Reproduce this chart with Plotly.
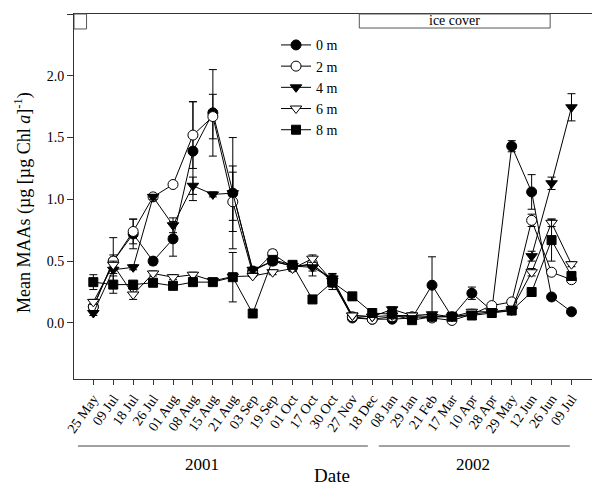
import plotly.graph_objects as go

dates = ["25 May", "09 Jul", "18 Jul", "26 Jul", "01 Aug", "08 Aug", "15 Aug", "21 Aug",
         "03 Sep", "19 Sep", "01 Oct", "17 Oct", "30 Oct", "27 Nov", "18 Dec", "08 Jan",
         "29 Jan", "21 Feb", "17 Mar", "10 Apr", "28 Apr", "29 May", "12 Jun", "26 Jun", "09 Jul"]

m0 = [0.13, 0.50, 0.72, 0.50, 0.68, 1.39, 1.70, 1.05, 0.42, 0.50, 0.46, 0.47, 0.35, 0.04, 0.03, 0.03,
      0.04, 0.305, 0.05, 0.24, 0.10, 1.43, 1.06, 0.21, 0.09]
m0_err = [0, 0.19, 0.12, 0.03, 0.14, 0.4, 0.35, 0.45, 0, 0.03, 0.03, 0.05, 0.05, 0, 0, 0,
          0, 0.23, 0, 0.05, 0, 0.045, 0.14, 0.02, 0]
m2 = [0.13, 0.50, 0.74, 1.02, 1.12, 1.52, 1.67, 0.98, 0.40, 0.56, 0.45, 0.48, 0.33, 0.05, 0.03, 0.05,
      0.05, 0.04, 0.02, 0.07, 0.14, 0.17, 0.83, 0.41, 0.35]
m2_err = [0, 0.05, 0.10, 0.02, 0.02, 0.27, 0.18, 0.24, 0, 0.03, 0.03, 0.04, 0.04, 0, 0, 0,
          0, 0, 0, 0, 0, 0, 0.05, 0, 0]
m4 = [0.08, 0.43, 0.45, 1.02, 0.79, 1.11, 1.04, 1.05, 0.43, 0.50, 0.46, 0.45, 0.36, 0.06, 0.05, 0.11,
      0.06, 0.05, 0.05, 0.07, 0.09, 0.10, 0.54, 1.13, 1.745]
m4_err = [0.02, 0.03, 0.02, 0.02, 0.06, 0.07, 0.02, 0.22, 0.02, 0.03, 0.03, 0.07, 0.04, 0, 0, 0.02,
          0, 0, 0, 0, 0, 0, 0.04, 0.05, 0.11]
m6 = [0.17, 0.47, 0.23, 0.40, 0.37, 0.39, 0.34, 0.375, 0.38, 0.41, 0.44, 0.52, 0.34, 0.06, 0.05, 0.06,
      0.06, 0.07, 0.05, 0.09, 0.09, 0.11, 0.41, 0.81, 0.475]
m6_err = [0.02, 0.03, 0.04, 0.02, 0.02, 0.02, 0.02, 0.02, 0, 0.02, 0.02, 0.03, 0.03, 0, 0, 0,
          0, 0, 0, 0.02, 0, 0, 0.03, 0.03, 0.02]
m8 = [0.33, 0.31, 0.31, 0.325, 0.30, 0.33, 0.33, 0.37, 0.076, 0.51, 0.47, 0.19, 0.33, 0.215, 0.08, 0.07,
      0.022, 0.05, 0.05, 0.06, 0.08, 0.10, 0.25, 0.67, 0.38]
m8_err = [0.06, 0.07, 0.02, 0.02, 0.02, 0.02, 0.02, 0.2, 0, 0.02, 0.02, 0.02, 0.06, 0.03, 0, 0,
          0, 0, 0, 0, 0, 0, 0, 0.17, 0.02]

series = [
    ("0 m", m0, m0_err, "circle", "black", 10),
    ("2 m", m2, m2_err, "circle", "white", 10),
    ("4 m", m4, m4_err, "triangle-down", "black", 10),
    ("6 m", m6, m6_err, "triangle-down", "white", 10),
    ("8 m", m8, m8_err, "square", "black", 9),
]

font_family = "Liberation Serif"
x_idx = list(range(len(dates)))

fig = go.Figure()
for name, vals, errs, sym, fill, size in series:
    fig.add_trace(go.Scatter(
        x=x_idx, y=vals, name=name, mode="lines+markers",
        line=dict(color="black", width=1),
        marker=dict(symbol=sym, color=fill, size=size, line=dict(color="black", width=1)),
        error_y=dict(type="data", array=errs, visible=True, color="black", thickness=1, width=4),
    ))

PW, PH = 518, 365  # plot area size in px

# ice cover boxes at top
fig.add_shape(type="rect", xref="x", yref="paper", x0=13.35, x1=22.93, y0=0.9616, y1=1.0,
              line=dict(color="#555555", width=1), fillcolor="white", layer="above")
fig.add_shape(type="rect", xref="x", yref="paper", x0=-0.97, x1=-0.34, y0=0.9590, y1=1.0,
              line=dict(color="#555555", width=1), fillcolor="white", layer="above")
fig.add_annotation(x=(13.35 + 22.93) / 2, y=0.981, xref="x", yref="paper", text="ice cover",
                   xanchor="center", yanchor="middle",
                   showarrow=False, font=dict(family=font_family, size=14, color="black"))

# year lines below axis
fig.add_shape(type="line", xref="x", yref="paper", x0=-0.77, x1=13.78, y0=-0.1836, y1=-0.1836,
              line=dict(color="#444444", width=1))
fig.add_shape(type="line", xref="x", yref="paper", x0=14.33, x1=23.92, y0=-0.1836, y1=-0.1836,
              line=dict(color="#444444", width=1))
fig.add_annotation(x=5.45, y=-0.2356, xref="x", yref="paper", text="2001",
                   xanchor="center", yanchor="middle",
                   showarrow=False, font=dict(family=font_family, size=17, color="black"))
fig.add_annotation(x=19.05, y=-0.2356, xref="x", yref="paper", text="2002",
                   xanchor="center", yanchor="middle",
                   showarrow=False, font=dict(family=font_family, size=17, color="black"))
fig.add_annotation(x=(332 - 74) / PW, y=-0.264, xref="paper", yref="paper", text="Date",
                   xanchor="center", yanchor="middle",
                   showarrow=False, font=dict(family=font_family, size=19, color="black"))
# y-axis title
fig.add_annotation(x=(23 - 74) / PW, y=(379 - 203) / PH, xref="paper", yref="paper",
                   text="Mean MAAs (µg [µg Chl <i>a</i>]<sup>-1</sup>)", textangle=-90,
                   xanchor="center", yanchor="middle",
                   showarrow=False, font=dict(family=font_family, size=18, color="black"))

fig.update_layout(
    width=600, height=486,
    margin=dict(l=66, r=16, t=6, b=115),
    plot_bgcolor="white", paper_bgcolor="white",
    font=dict(family=font_family, color="black"),
    showlegend=True,
    legend=dict(x=0.39, y=0.958, xanchor="left", yanchor="top",
                font=dict(family=font_family, size=14, color="black"),
                bgcolor="rgba(0,0,0,0)", tracegroupgap=0),
    xaxis=dict(
        tickmode="array", tickvals=x_idx, ticktext=dates, tickangle=-55,
        range=[-0.97, 25.03], showgrid=False, zeroline=False,
        showline=True, linecolor="#333333", linewidth=1, mirror=True,
        ticks="outside", ticklen=5, tickcolor="#333333",
        tickfont=dict(family=font_family, size=14, color="black"),
    ),
    yaxis=dict(
        range=[-0.454, 2.5], tickvals=[0, 0.5, 1.0, 1.5, 2.0, 2.5], tickformat=".1f",
        showgrid=False, zeroline=False,
        showline=True, linecolor="#333333", linewidth=1, mirror=True,
        ticks="outside", ticklen=6, tickcolor="#333333",
        tickfont=dict(family=font_family, size=14, color="black"),
    ),
)

fig.write_html("out.html")
